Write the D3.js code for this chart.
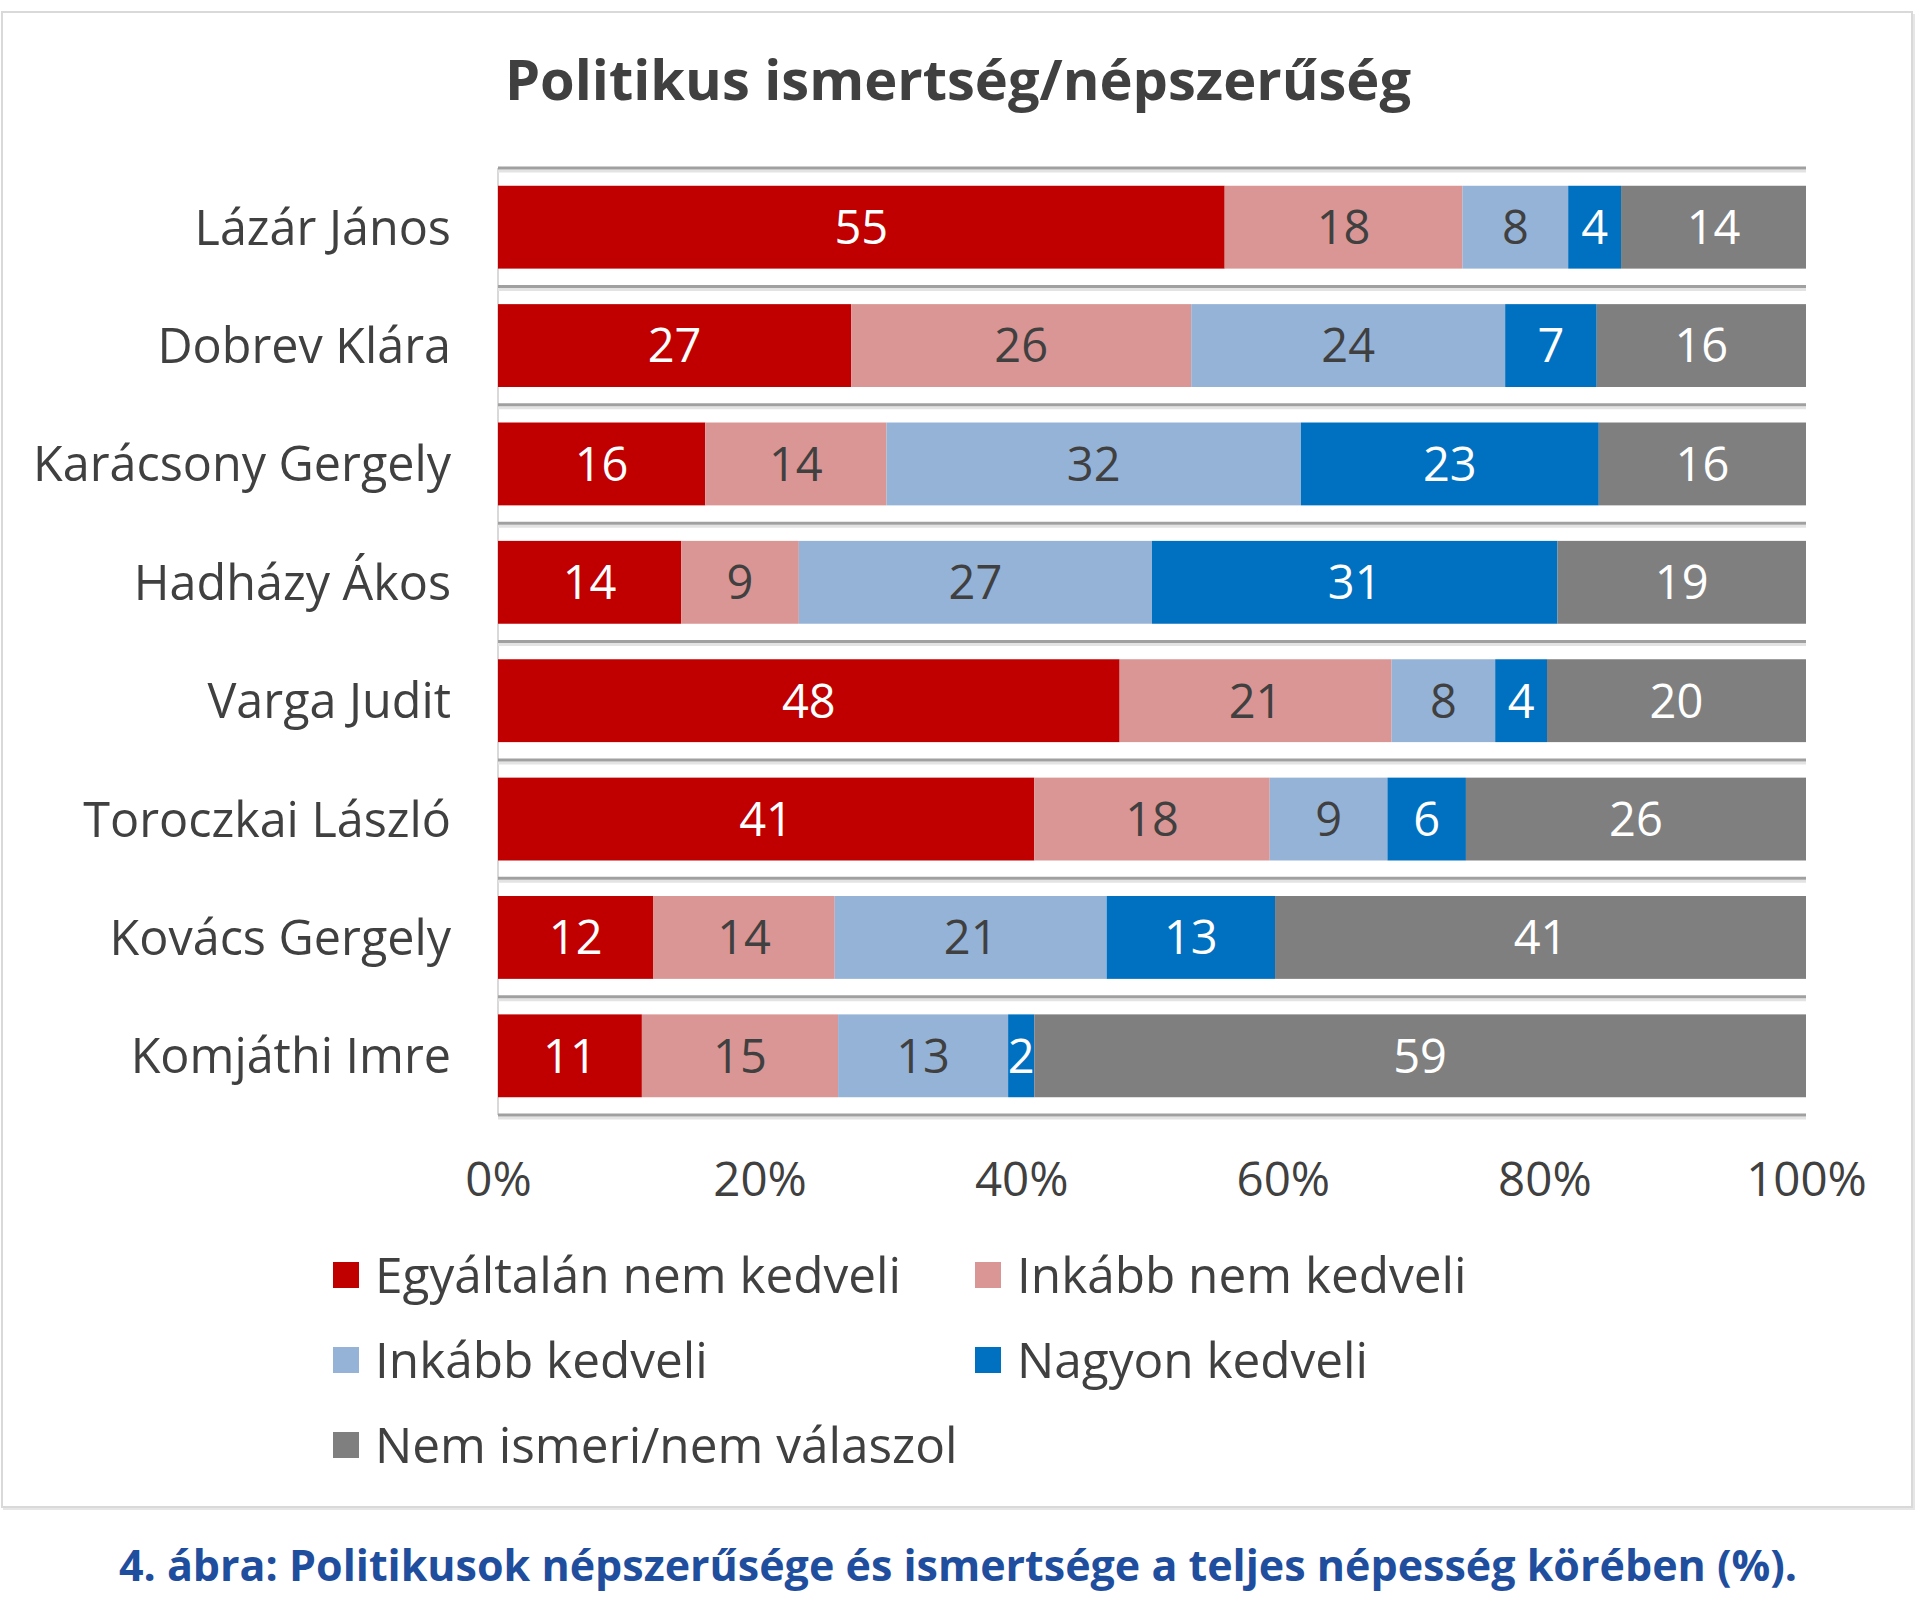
<!DOCTYPE html>
<html><head><meta charset="utf-8">
<script src="https://cdn.jsdelivr.net/npm/d3@7"></script>
<style>
html,body{margin:0;padding:0;background:#fff;}
svg{display:block;}
</style></head>
<body>
<svg id="chart" width="1920" height="1617"></svg>
<script>
const categories = ["Lázár János","Dobrev Klára","Karácsony Gergely","Hadházy Ákos","Varga Judit","Toroczkai László","Kovács Gergely","Komjáthi Imre"];
const seriesNames = ["Egyáltalán nem kedveli","Inkább nem kedveli","Inkább kedveli","Nagyon kedveli","Nem ismeri/nem válaszol"];
const egyaltalanNem = [55,27,16,14,48,41,12,11];
const inkabbNem     = [18,26,14,9,21,18,14,15];
const inkabbKedveli = [8,24,32,27,8,9,21,13];
const nagyonKedveli = [4,7,23,31,4,6,13,2];
const nemIsmeri     = [14,16,16,19,20,26,41,59];
const tickValues = [0,0.2,0.4,0.6,0.8,1];
const titleText = "Politikus ismertség/népszerűség";
const captionText = "4. ábra: Politikusok népszerűsége és ismertsége a teljes népesség körében (%).";

const seriesValues = [egyaltalanNem, inkabbNem, inkabbKedveli, nagyonKedveli, nemIsmeri];
const colors = ["#C00000","#DA9694","#95B3D7","#0070C0","#7F7F7F"];
const labelColors = ["#ffffff","#404040","#404040","#ffffff","#ffffff"];

const rows = categories.map((c,i)=>{
  const o = {cat:c};
  seriesNames.forEach((s,j)=>o[s]=seriesValues[j][i]);
  return o;
});
const stack = d3.stack().keys(seriesNames).offset(d3.stackOffsetExpand);
const stacked = stack(rows);

const svg = d3.select("#chart");
const REG = "'Open Sans', 'Noto Sans', sans-serif";
const BOLD = "'Open Sans', 'Noto Sans', sans-serif";

// outer box
svg.append("rect").attr("x",3).attr("y",14).attr("width",1912).attr("height",1496)
  .attr("fill","#e6e6e6");
svg.append("rect").attr("x",2).attr("y",12).attr("width",1910).attr("height",1495)
  .attr("fill","#fff").attr("stroke","#d9d9d9").attr("stroke-width",2);

const x = d3.scaleLinear().domain([0,1]).range([498,1806]);
const y = d3.scaleBand().domain(categories).range([168,1115]).paddingInner(0.3).paddingOuter(0.15);

// title
svg.append("text").attr("x",958).attr("y",100).attr("text-anchor","middle")
  .attr("font-family",BOLD).attr("font-weight",700).attr("font-size",56)
  .attr("fill","#404040").text(titleText);

// vertical axis line
svg.append("line").attr("x1",x(0)).attr("x2",x(0)).attr("y1",y.range()[0]).attr("y2",y.range()[1])
  .attr("stroke","#d9d9d9").attr("stroke-width",2);

// gridlines at category boundaries
const step = y.step();
const bounds = d3.range(categories.length+1).map(i=>y.range()[0]+i*step);
const g = svg.append("g");
g.selectAll("line.sh").data(bounds).join("line").attr("class","sh")
  .attr("x1",x(0)).attr("x2",x(1)).attr("y1",d=>d+3).attr("y2",d=>d+3)
  .attr("stroke","#e3e3e3").attr("stroke-width",3);
g.selectAll("line.gl").data(bounds).join("line").attr("class","gl")
  .attr("x1",x(0)).attr("x2",x(1)).attr("y1",d=>d).attr("y2",d=>d)
  .attr("stroke","#a0a0a0").attr("stroke-width",3);

// bars
const layers = svg.append("g").selectAll("g").data(stacked).join("g")
  .attr("fill",(d,i)=>colors[i]);
layers.selectAll("rect").data(d=>d).join("rect")
  .attr("x",d=>x(d[0])).attr("width",d=>x(d[1])-x(d[0]))
  .attr("y",d=>y(d.data.cat)).attr("height",y.bandwidth());

// value labels
const lbl = svg.append("g").selectAll("g").data(stacked).join("g")
  .attr("fill",(d,i)=>labelColors[i]);
lbl.selectAll("text").data(d=>d.map(v=>Object.assign(v,{key:d.key}))).join("text")
  .attr("x",d=>(x(d[0])+x(d[1]))/2)
  .attr("y",d=>y(d.data.cat)+y.bandwidth()/2)
  .attr("dy","0.36em").attr("text-anchor","middle")
  .attr("font-family",REG).attr("font-size",47)
  .text(d=>d.data[d.key]);

// category labels
svg.append("g").selectAll("text").data(categories).join("text")
  .attr("x",451).attr("y",d=>y(d)+y.bandwidth()/2).attr("dy","0.36em")
  .attr("text-anchor","end").attr("font-family",REG).attr("font-size",48.5)
  .attr("fill","#404040").text(d=>d);

// x axis
const axis = d3.axisBottom(x).tickValues(tickValues).tickFormat(d3.format(".0%")).tickSize(0).tickPadding(0);
const ax = svg.append("g").attr("transform",`translate(0,${y.range()[1]})`).call(axis);
ax.select(".domain").remove();
ax.selectAll("text").attr("y",64).attr("dy","0.36em")
  .attr("font-family",REG).attr("font-size",47.5).attr("fill","#404040");

// legend
const legX = [333,975];
const legY = [1275,1360,1445];
const leg = svg.append("g").selectAll("g").data(seriesNames).join("g")
  .attr("transform",(d,i)=>`translate(${legX[i%2]},${legY[Math.floor(i/2)]})`);
leg.append("rect").attr("x",0).attr("y",-13).attr("width",26).attr("height",26)
  .attr("fill",(d,i)=>colors[i]);
leg.append("text").attr("x",42).attr("y",0).attr("dy","0.36em")
  .attr("font-family",REG).attr("font-size",49.5).attr("fill","#404040").text(d=>d);

// caption
svg.append("text").attr("x",958).attr("y",1581).attr("text-anchor","middle")
  .attr("font-family",BOLD).attr("font-weight",700).attr("font-size",43)
  .attr("fill","#1F4E9E").text(captionText);
</script>
</body></html>
